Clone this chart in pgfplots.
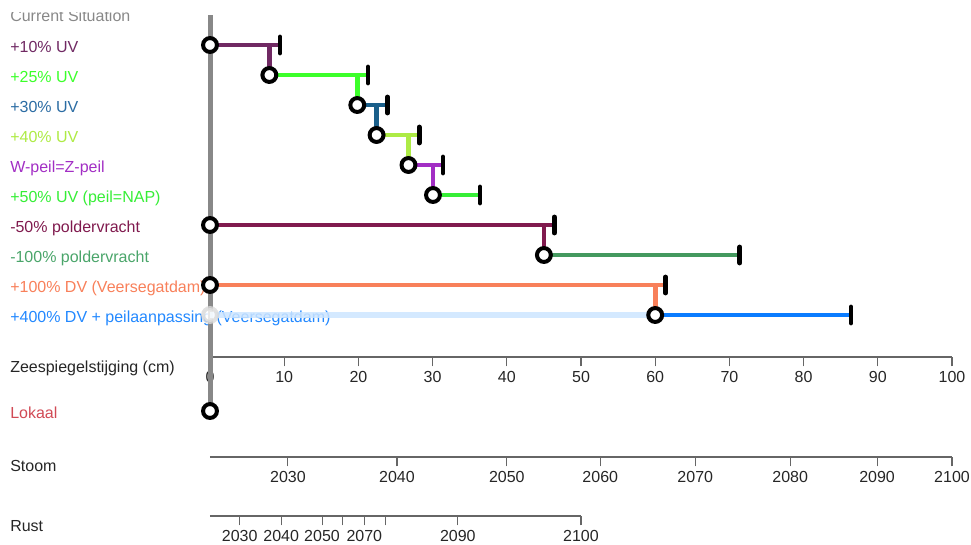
\documentclass[border=0pt]{standalone}
\usepackage{pgfplots}
\pgfplotsset{compat=1.18}
\usepackage{fontspec}
\setmainfont{Liberation Sans}
\definecolor{cA}{HTML}{702963}
\definecolor{cB}{HTML}{3CFF2A}
\definecolor{cC}{HTML}{1A5F8A}
\definecolor{cCt}{HTML}{2B6CA3}
\definecolor{cD}{HTML}{ADEB45}
\definecolor{cE}{HTML}{A22EC4}
\definecolor{cF}{HTML}{36EE36}
\definecolor{cG}{HTML}{801A4E}
\definecolor{cH}{HTML}{44995F}
\definecolor{cHt}{HTML}{4AA56A}
\definecolor{cI}{HTML}{F8805A}
\definecolor{cJ}{HTML}{0A7CFF}
\definecolor{cJt}{HTML}{2288FF}
\definecolor{cJl}{HTML}{CCE5FF}
\definecolor{cLok}{HTML}{D14A55}
\definecolor{cCur}{HTML}{888888}
\definecolor{axgray}{HTML}{666666}
\pgfplotsset{
  myaxis/.style={scale only axis, anchor=south west, axis x line=bottom, axis y line=none,
    tick align=outside, major tick length=7pt,
    axis line style={-, draw=axgray, line width=0.8pt},
    tick style={draw=axgray, line width=0.8pt},
    xticklabel style={text=black!85, font=\fontsize{12}{14}\selectfont},
    /pgf/number format/assume math mode=true,
    /pgf/number format/1000 sep={}},
  seg/.style={line width=3.6pt, no marks},
}
\begin{document}
\begin{tikzpicture}[font=\fontsize{12}{14}\selectfont]
\tikzset{lab/.style={anchor=base west, inner sep=0pt}}
\begin{scope}
\clip (-160pt,200pt) rectangle (0pt,258.2pt);
\node[lab, text=cCur] at (-150pt, 251.5pt) {Current Situation};
\end{scope}
\node[lab, text=cA] at (-150pt, 228.75pt) {+10\% UV};
\node[lab, text=cB] at (-150pt, 206.25pt) {+25\% UV};
\node[lab, text=cCt] at (-150pt, 183.75pt) {+30\% UV};
\node[lab, text=cD] at (-150pt, 161.25pt) {+40\% UV};
\node[lab, text=cE] at (-150pt, 138.75pt) {W-peil=Z-peil};
\node[lab, text=cF] at (-150pt, 116.25pt) {+50\% UV (peil=NAP)};
\node[lab, text=cG] at (-150pt, 93.75pt) {-50\% poldervracht};
\node[lab, text=cHt] at (-150pt, 71.25pt) {-100\% poldervracht};
\node[lab, text=cI] at (-150pt, 48.75pt) {+100\% DV (Veersegatdam)};
\node[lab, text=cJt] at (-150pt, 26.25pt) {+400\% DV + peilaanpassing (Veersegatdam)};
\node[lab, text=black!85] at (-150pt, -11.25pt) {Zeespiegelstijging (cm)};
\node[lab, text=cLok] at (-150pt, -45.75pt) {Lokaal};
\node[lab, text=black!85] at (-150pt, -86pt) {Stoom};
\node[lab, text=black!85] at (-150pt, -131pt) {Rust};

\begin{axis}[myaxis, at={(0pt,0pt)}, width=556.5pt, height=267.75pt,
  xmin=0, xmax=100, ymin=-357, ymax=0, clip=false,
  xtick={0,10,...,100}]
% vertical current-situation line
\addplot[no marks, draw=cCur, line width=3.75pt] coordinates {(0,-15) (0,-405)};
% horizontal segments
\addplot[seg, cA] coordinates {(0,-45) (9.43,-45)};
\addplot[seg, cA] coordinates {(8,-45) (8,-75)};
\addplot[seg, cB] coordinates {(8,-75) (21.3,-75)};
\addplot[seg, cB] coordinates {(19.85,-75) (19.85,-105)};
\addplot[seg, cC] coordinates {(19.85,-105) (23.9,-105)};
\addplot[seg, cC] coordinates {(22.45,-105) (22.45,-135)};
\addplot[seg, cD] coordinates {(22.45,-135) (28.2,-135)};
\addplot[seg, cD] coordinates {(26.75,-135) (26.75,-165)};
\addplot[seg, cE] coordinates {(26.75,-165) (31.4,-165)};
\addplot[seg, cE] coordinates {(30.05,-165) (30.05,-195)};
\addplot[seg, cF] coordinates {(30.05,-195) (36.4,-195)};
\addplot[seg, cG] coordinates {(0,-225) (46.4,-225)};
\addplot[seg, cG] coordinates {(45,-225) (45,-255)};
\addplot[seg, cH] coordinates {(45,-255) (71.4,-255)};
\addplot[seg, cI] coordinates {(0,-285) (61.4,-285)};
\addplot[seg, cI] coordinates {(60,-285) (60,-315)};
\addplot[no marks, draw=cJl, line width=4.5pt, opacity=0.85] coordinates {(0,-315) (60,-315)};
\addplot[seg, cJ] coordinates {(60,-315) (86.4,-315)};
% end ticks
\addplot[only marks, mark=|, mark size=6pt, mark options={line width=3.6pt, line cap=round, draw=black}]
  coordinates {(9.43,-45) (21.3,-75) (23.9,-105) (28.2,-135) (31.4,-165) (36.4,-195)
               (46.4,-225) (71.4,-255) (61.4,-285) (86.4,-315)};
% ghost circle
\addplot[only marks, mark=*, mark size=5.2pt, mark options={draw=black!15, fill=white, fill opacity=0.3, line width=3pt, opacity=0.8}]
  coordinates {(0,-315)};
% circles
\addplot[only marks, mark=*, mark size=5.2pt, mark options={draw=black, fill=white, line width=3pt}]
  coordinates {(0,-45) (8,-75) (19.85,-105) (22.45,-135) (26.75,-165) (30.05,-195)
               (0,-225) (45,-255) (0,-285) (60,-315) (0,-411)};
\end{axis}

\begin{axis}[myaxis, at={(0pt,-75pt)}, width=556.5pt, height=20pt,
  xmin=0, xmax=100, ymin=0, ymax=1,
  xtick={10.5,25.2,40,52.6,65.4,78.2,89.9,100},
  xticklabels={2030,2040,2050,2060,2070,2080,2090,2100}]
\end{axis}

\begin{axis}[myaxis, at={(0pt,-119.25pt)}, width=278.25pt, height=20pt,
  xmin=0, xmax=50, ymin=0, ymax=1,
  xtick={4,9.6,15.1,17.9,20.8,23.7,33.4,50},
  xticklabels={2030,2040,2050,,2070,,2090,2100}]
\end{axis}

\pgfresetboundingbox
\useasboundingbox (-157.5pt,-140.25pt) rectangle (570.75pt,267.75pt);
\end{tikzpicture}
\end{document}
